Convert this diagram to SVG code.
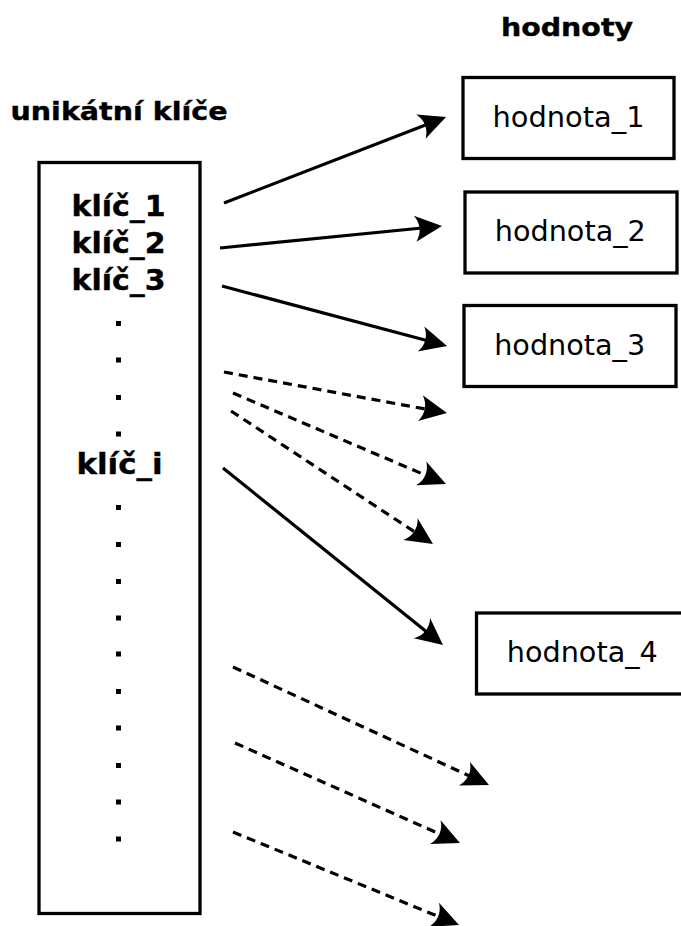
<svg xmlns="http://www.w3.org/2000/svg" width="681" height="926" viewBox="0 0 681 926">
  <style>
    .box { fill: #ffffff; stroke: #000000; stroke-width: 3.3; }
    .title { font-family: "DejaVu Sans", "Liberation Sans", sans-serif; font-weight: bold; font-size: 25px; fill: #000; stroke: #000; stroke-width: 0.4; }
    .key { font-family: "DejaVu Sans", "Liberation Sans", sans-serif; font-weight: bold; font-size: 28px; fill: #000; stroke: #000; stroke-width: 0.4; }
    .val { font-family: "DejaVu Sans", "Liberation Sans", sans-serif; font-size: 28px; fill: #000; }
    .link { fill: none; stroke: #000; stroke-width: 3.2; marker-end: url(#head); }
    .dashed { stroke-dasharray: 9 6; }
    .dot { fill: #000; }
  </style>
  <defs>
    <!-- concave arrowhead; the line stops at the notch, tip lies 20px further on -->
    <marker id="head" markerUnits="userSpaceOnUse" markerWidth="36" markerHeight="32" viewBox="-12 -16 36 32" refX="0" refY="0" orient="auto">
      <path d="M20,0 L-7,-13 C-1,-5 -1,5 -7,13 Z" fill="#000"/>
    </marker>
  </defs>
  <rect width="681" height="926" fill="#ffffff"/>

  <!-- column headings -->
  <text class="title" x="10.5" y="120" textLength="217" lengthAdjust="spacingAndGlyphs">unikátní klíče</text>
  <text class="title" x="501" y="36" textLength="132" lengthAdjust="spacingAndGlyphs">hodnoty</text>

  <!-- key column -->
  <g id="keys">
    <rect class="box" x="39" y="162.5" width="161" height="751"/>
    <text class="key" x="71.5" y="216" textLength="94" lengthAdjust="spacingAndGlyphs">klíč_1</text>
    <text class="key" x="71.5" y="253" textLength="94" lengthAdjust="spacingAndGlyphs">klíč_2</text>
    <text class="key" x="71.5" y="290" textLength="94" lengthAdjust="spacingAndGlyphs">klíč_3</text>
    <text class="key" x="76.5" y="474" textLength="86" lengthAdjust="spacingAndGlyphs">klíč_i</text>
    <g id="ellipsis-dots">
      <rect class="dot" x="116" y="321" width="5" height="5"/>
      <rect class="dot" x="116" y="357.5" width="5" height="5"/>
      <rect class="dot" x="116" y="395" width="5" height="5"/>
      <rect class="dot" x="116" y="431.5" width="5" height="5"/>
      <rect class="dot" x="116" y="505" width="5" height="5"/>
      <rect class="dot" x="116" y="542" width="5" height="5"/>
      <rect class="dot" x="116" y="579" width="5" height="5"/>
      <rect class="dot" x="116" y="615.5" width="5" height="5"/>
      <rect class="dot" x="116" y="651.5" width="5" height="5"/>
      <rect class="dot" x="116" y="689" width="5" height="5"/>
      <rect class="dot" x="116" y="725.5" width="5" height="5"/>
      <rect class="dot" x="116" y="763" width="5" height="5"/>
      <rect class="dot" x="116" y="799.5" width="5" height="5"/>
      <rect class="dot" x="116" y="836.5" width="5" height="5"/>
    </g>
  </g>

  <!-- value boxes -->
  <g id="hodnota_1">
    <rect class="box" x="463" y="77.5" width="211" height="81"/>
    <text class="val" x="492.5" y="127" textLength="152" lengthAdjust="spacingAndGlyphs">hodnota_1</text>
  </g>
  <g id="hodnota_2">
    <rect class="box" x="465" y="192" width="212" height="81"/>
    <text class="val" x="494.8" y="241" textLength="151" lengthAdjust="spacingAndGlyphs">hodnota_2</text>
  </g>
  <g id="hodnota_3">
    <rect class="box" x="464" y="305.5" width="212" height="81"/>
    <text class="val" x="494.2" y="355" textLength="151" lengthAdjust="spacingAndGlyphs">hodnota_3</text>
  </g>
  <g id="hodnota_4">
    <rect class="box" x="476.5" y="613" width="220" height="81"/>
    <text class="val" x="506.8" y="662" textLength="151" lengthAdjust="spacingAndGlyphs">hodnota_4</text>
  </g>

  <!-- connectors -->
  <g id="connectors">
    <line class="link" x1="224" y1="203" x2="427.4" y2="124.2"/>
    <line class="link" x1="220" y1="248" x2="422.1" y2="228"/>
    <line class="link" x1="222" y1="286" x2="427.7" y2="340.8"/>
    <line class="link dashed" x1="224" y1="372" x2="427.3" y2="409.4"/>
    <line class="link dashed" x1="233" y1="393" x2="427.6" y2="476.1"/>
    <line class="link dashed" x1="231" y1="411" x2="416.3" y2="533"/>
    <line class="link" x1="223" y1="468" x2="427.4" y2="632.5"/>
    <line class="link dashed" x1="233" y1="667" x2="470.8" y2="776.6"/>
    <line class="link dashed" x1="235" y1="743" x2="441.7" y2="834.9"/>
    <line class="link dashed" x1="233" y1="832" x2="440.5" y2="917.4"/>
  </g>
</svg>
